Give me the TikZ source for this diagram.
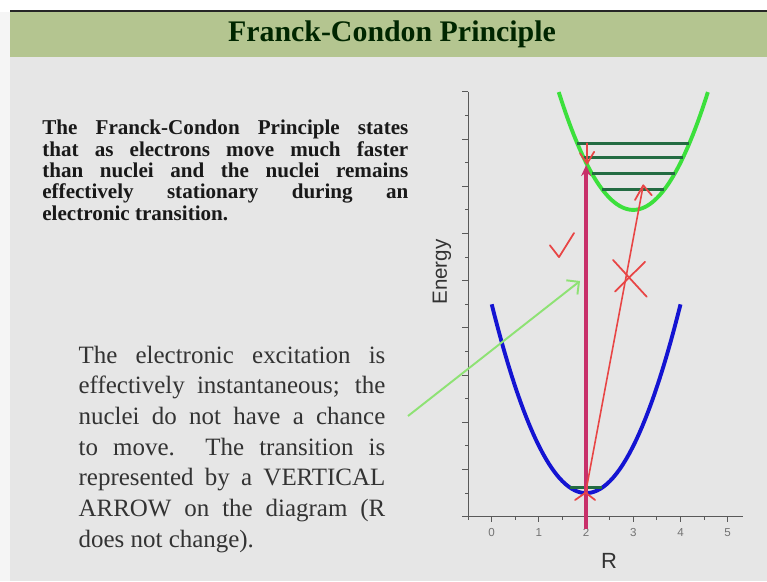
\documentclass[tikz,border=0pt]{standalone}
\usepackage{fontspec}
\setmainfont{Liberation Serif}
\setsansfont{Liberation Sans}
\usetikzlibrary{arrows.meta}
\definecolor{headgreen}{HTML}{B4C590}
\definecolor{slidegray}{HTML}{E6E6E6}
\definecolor{curveblue}{HTML}{1414D2}
\definecolor{curvegreen}{HTML}{3CE03C}
\definecolor{vibgreen}{HTML}{236B42}
\definecolor{arrowred}{HTML}{C8306A}
\definecolor{penred}{HTML}{E84545}
\definecolor{pointgreen}{HTML}{8EE274}
\hyphenpenalty=10000
\exhyphenpenalty=10000
\tolerance=9999

\begin{document}
\begin{tikzpicture}[x=1cm,y=1cm]
  \tikzstyle{bodytext}=[inner sep=0pt, anchor=north west, align=justify]
  \tikzstyle{vibline}=[vibgreen, line width=1.7pt]
  \tikzstyle{handmark}=[penred, line width=1pt, line cap=round, line join=round]
  \tikzstyle{ticklabel}=[font=\sffamily\fontsize{6.6pt}{7pt}\selectfont, text=black!55]
  \useasboundingbox (0,0) rectangle (15.34,11.62);
  % slide background and header bar
  \fill[white] (0,0) rectangle (15.34,11.62);
  \fill[black!4] (0,0) rectangle (0.2,11.38);
  \fill[slidegray] (0.2,0) rectangle (15.34,10.48);
  \fill[headgreen] (0.2,10.48) rectangle (15.34,11.38);
  \fill[black!85] (0.2,11.38) rectangle (15.34,11.43);
  \node[font=\bfseries\fontsize{17pt}{20pt}\selectfont, text=black!85!green] (title) at (7.84,10.93) {Franck-Condon Principle};

  \node[bodytext, text width=7.32cm, text=black!90, font=\bfseries\fontsize{12pt}{12.1pt}\selectfont] (principle) at (0.84,9.22)
    {The Franck-Condon Principle states\linebreak that as electrons move much faster\linebreak than nuclei and the nuclei remains\linebreak effectively stationary during an\linebreak electronic transition.};
  \node[bodytext, text width=6.134cm, text=black!80, font=\fontsize{14.2pt}{17.47pt}\selectfont] (excitation) at (1.566,4.71)
    {The electronic excitation is\linebreak effectively instantaneous; the\linebreak nuclei do not have a chance\linebreak to move.\ \ The transition is\linebreak represented by a VERTICAL\linebreak ARROW on the diagram (R\linebreak does not change).};

  \node[font=\sffamily\fontsize{11.7pt}{14pt}\selectfont, text=black!80, rotate=90] (energy) at (8.84,6.18) {Energy};
  \node[font=\sffamily\fontsize{12.5pt}{15pt}\selectfont, text=black!80] (rlabel) at (12.18,0.4) {R};

  \begin{scope}[shift={(9.834,1.286)}, x=0.944cm, y=0.944cm]
    % axes and ticks
    \draw[black!65, line width=0.6pt] (-0.5,9) -- (-0.5,0) -- (5.32,0);
    \foreach \ye in {0,...,9} \draw[black!65, line width=0.6pt] (-0.5,\ye) -- ++(-0.13,0);
    \foreach \ye in {0.5,1.5,...,8.5} \draw[black!65, line width=0.6pt] (-0.5,\ye) -- ++(-0.07,0);
    \foreach \xr in {0,...,5} {
      \draw[black!65, line width=0.6pt] (\xr,0) -- ++(0,-0.11);
      \node[ticklabel] (tick\xr) at (\xr,-0.33) {\xr};
    }
    \foreach \xr in {-0.5,0.5,...,4.5} \draw[black!65, line width=0.6pt] (\xr,0) -- ++(0,-0.06);

    % potential curves
    \draw[curveblue, line width=2.2pt] plot[domain=0:4, samples=60] (\x,{0.5+(\x-2)^2});
    \draw[vibline] (1.66,0.62) -- (2.34,0.62);
    \draw[curvegreen, line width=2.2pt] plot[domain=1.42:4.58, samples=60] (\x,{6.5+(\x-3)^2});
    \foreach \ev in {6.93,7.27,7.6,7.9}
      \draw[vibline] ({3-sqrt(\ev-6.5)},\ev) -- ({3+sqrt(\ev-6.5)},\ev);

    % transitions
    \coordinate (ground) at (2,0.565);
    \coordinate (vtip) at (2,7.45);
    \coordinate (stip) at (3.21,7.02);
    \draw[arrowred, line width=2pt, -{Stealth[length=0.22cm, width=0.2cm]}] (2,-0.25) -- (vtip);
    \draw[handmark, line width=0.9pt] (ground) -- (stip);
    \draw[handmark] (3.036,6.71) -- (stip) -- (3.39,6.81);

    % hand written marks
    \draw[handmark] (1.233,5.75) -- (1.426,5.50) -- (1.744,6.01);
    \draw[handmark] (2.57,5.44) -- (3.284,4.66);
    \draw[handmark] (3.248,5.40) -- (2.612,4.77);
    \draw[handmark] (2.02,7.91) -- (2.02,7.48);
    \draw[handmark] (1.87,7.70) -- (2.02,7.48) -- (2.17,7.73);
    \draw[handmark] (1.767,0.354) -- (1.99,0.51) -- (2.19,0.354);
  \end{scope}

  \coordinate (gstart) at (8.16,3.3);
  \coordinate (gend) at (11.6,6.0);
  \draw[pointgreen, line width=1.1pt, -{Straight Barb[length=0.18cm]}] (gstart) -- (gend);
\end{tikzpicture}
\end{document}
